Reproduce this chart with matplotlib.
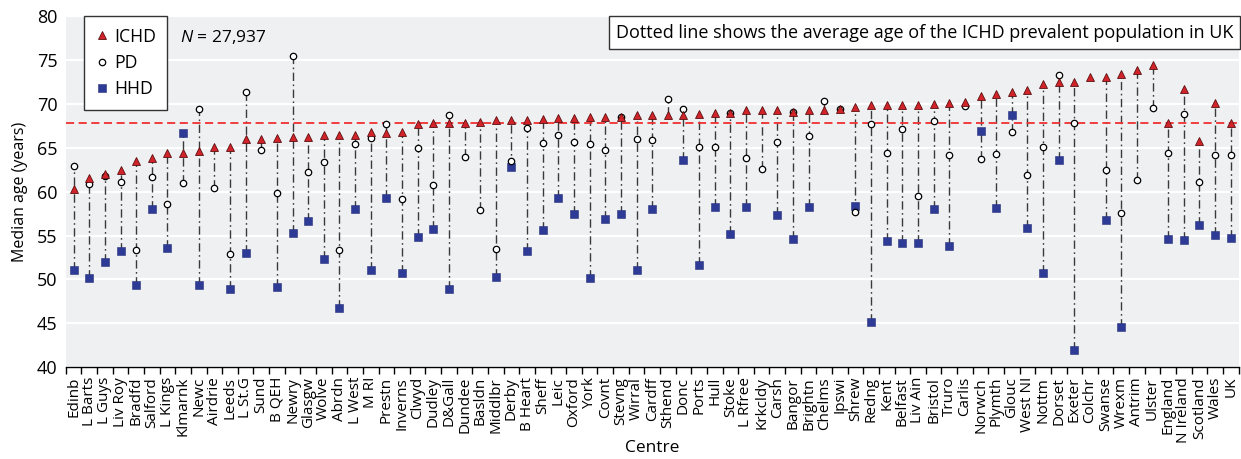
import numpy as np
import matplotlib.pyplot as plt
from matplotlib.lines import Line2D

nan = np.nan

centres = ['Edinb', 'L Barts', 'L Guys', 'Liv Roy', 'Bradfd', 'Salford', 'L Kings', 'Klmarnk',
           'Newc', 'Airdrie', 'Leeds', 'L St.G', 'Sund', 'B QEH', 'Newry', 'Glasgw', 'Wolve',
           'Abrdn', 'L West', 'M RI', 'Prestn', 'Inverns', 'Clwyd', 'Dudley', 'D&Gall', 'Dundee',
           'Basldn', 'Middlbr', 'Derby', 'B Heart', 'Sheff', 'Leic', 'Oxford', 'York', 'Covnt',
           'Stevng', 'Wirral', 'Cardff', 'Sthend', 'Donc', 'Ports', 'Hull', 'Stoke', 'L Rfree',
           'Krkcldy', 'Carsh', 'Bangor', 'Brightn', 'Chelms', 'Ipswi', 'Shrew', 'Redng', 'Kent',
           'Belfast', 'Liv Ain', 'Bristol', 'Truro', 'Carlis', 'Norwch', 'Plymth', 'Glouc',
           'West NI', 'Nottm', 'Dorset', 'Exeter', 'Colchr', 'Swanse', 'Wrexm', 'Antrim', 'Ulster',
           'England', 'N Ireland', 'Scotland', 'Wales', 'UK']

# median age, in-centre HD
ichd = [60.3, 61.5, 62.0, 62.5, 63.5, 63.8, 64.4, 64.4, 64.6, 65.1, 65.1, 66.0, 66.0, 66.1, 66.2,
        66.2, 66.4, 66.4, 66.5, 66.8, 66.7, 66.8, 67.7, 67.8, 67.8, 67.8, 67.9, 68.2, 68.2, 68.2,
        68.3, 68.4, 68.4, 68.5, 68.5, 68.5, 68.7, 68.7, 68.7, 68.7, 68.8, 69.0, 69.0, 69.3, 69.3,
        69.3, 69.1, 69.35, 69.35, 69.4, 69.6, 69.85, 69.9, 69.9, 69.9, 70.0, 70.15, 70.2, 70.9,
        71.1, 71.4, 71.6, 72.25, 72.5, 72.5, 73.1, 73.1, 73.4, 73.9, 74.4,
        67.8, 71.7, 65.8, 70.1, 67.85]

# peritoneal dialysis
pd_ = [62.9, 60.9, 61.8, 61.1, 53.3, 61.7, 58.6, 61.0, 69.4, 60.4, 52.9, 71.3, 64.7, 59.8, 75.4,
       62.2, 63.4, 53.3, 65.4, 66.1, 67.7, 59.2, 65.0, 60.7, 68.7, 63.95, 57.9, 53.5, 63.5, 67.3,
       65.5, 66.4, 65.7, 65.4, 64.7, 68.5, 66.0, 65.9, 70.5, 69.4, 65.1, 65.1, 69.0, 63.8, 62.6,
       65.7, 69.1, 66.3, 70.3, 69.4, 57.7, 67.7, 64.4, 67.1, 59.5, 68.1, 64.2, 69.7, 63.75,
       64.3, 66.8, 61.9, 65.05, 73.3, 67.8, nan, 62.5, 57.6, 61.3, 69.5,
       64.45, 68.8, 61.15, 64.2, 64.2]

# home HD
hhd = [51.1, 50.2, 52.0, 53.2, 49.4, 58.0, 53.6, 66.7, 49.4, nan, 48.9, 53.0, nan, 49.1, 55.3,
       56.7, 52.3, 46.8, 58.0, 51.1, 59.3, 50.7, 54.8, 55.8, 48.9, nan, nan, 50.3, 62.8, 53.2,
       55.6, 59.3, 57.5, 50.2, 56.9, 57.4, 51.1, 58.0, nan, 63.6, 51.6, 58.2, 55.2, 58.3, nan,
       57.3, 54.6, 58.3, nan, nan, 58.4, 45.1, 54.4, 54.1, 54.2, 58.0, 53.85, nan, 66.9,
       58.1, 68.7, 55.9, 50.7, 63.6, 42.0, nan, 56.8, 44.6, nan, nan,
       54.6, 54.5, 56.2, 55.1, 54.7]

uk_mean = 67.8

plt.rcParams['font.family'] = ['Open Sans', 'DejaVu Sans']
plt.rcParams['mathtext.fontset'] = 'custom'
plt.rcParams['mathtext.rm'] = 'Open Sans'
plt.rcParams['mathtext.it'] = 'Open Sans:italic'

tri_style = dict(marker='^', color='#d2232a', markeredgecolor='#5a1010',
                 markersize=5.2, markeredgewidth=0.6)
circ_style = dict(marker='o', markerfacecolor='white', markeredgecolor='black',
                  markersize=4.6, markeredgewidth=0.9)
sq_style = dict(marker='s', color='#2e3b96', markeredgecolor='#26307a',
                markersize=5.2, markeredgewidth=0.4)

fig = plt.figure(figsize=(12.41, 4.59), dpi=100)
ax = fig.add_axes([0.053, 0.2, 0.945, 0.765])
ax.set_facecolor('#eff0f2')

x = np.arange(len(centres))
vals = np.array([ichd, pd_, hhd], dtype=float)
lo = np.nanmin(vals, axis=0)
hi = np.nanmax(vals, axis=0)

ax.vlines(x, lo, hi, colors='#3a3a3a', linewidth=1.0,
          linestyles=(0, (6, 2.5, 1.2, 2.5)), zorder=2)
ax.axhline(uk_mean, color='#f03030', linewidth=1.3, dashes=(4.5, 2.5), zorder=3)

ax.plot(x, hhd, ls='none', zorder=4, **sq_style)
ax.plot(x, pd_, ls='none', zorder=5, **circ_style)
ax.plot(x, ichd, ls='none', zorder=6, **tri_style)

ax.set_xlim(-0.5, len(centres) - 0.5)
ax.set_ylim(40, 80)
ax.set_yticks(range(40, 81, 5))
ax.yaxis.grid(True, color='white', linewidth=1.6)
ax.set_axisbelow(True)

ax.set_xticks(x)
ax.set_xticklabels(centres, rotation=90, fontsize=11)
ax.set_xticks(np.arange(-0.5, len(centres), 1), minor=True)
ax.tick_params(axis='x', which='major', length=0, pad=7)
ax.tick_params(axis='x', which='minor', length=5, width=1, color='black', direction='out')
ax.tick_params(axis='y', length=0, labelsize=13, pad=6)

for s in ['top', 'right', 'left']:
    ax.spines[s].set_visible(False)
ax.spines['bottom'].set_color('black')
ax.spines['bottom'].set_linewidth(1)

ax.set_ylabel('Median age (years)', fontsize=11.5, labelpad=6)
ax.set_xlabel('Centre', fontsize=12.5, labelpad=-2)

handles = [
    Line2D([], [], ls='none', label='ICHD', **tri_style),
    Line2D([], [], ls='none', label='PD', **circ_style),
    Line2D([], [], ls='none', label='HHD', **sq_style),
]
leg = ax.legend(handles=handles, loc='upper left', bbox_to_anchor=(0.0155, 1.0),
                fontsize=12.7, frameon=True, fancybox=False, framealpha=1,
                edgecolor='#333333', handletextpad=0.25, handlelength=0.8,
                borderpad=0.65, labelspacing=0.47, borderaxespad=0)
leg.get_frame().set_linewidth(1.0)

ax.text(0.097, 0.94, r'$\it{N}$ = 27,937', transform=ax.transAxes, fontsize=12.5,
        va='center', ha='left')

ax.text(0.9955, 0.953, 'Dotted line shows the average age of the ICHD prevalent population in UK',
        transform=ax.transAxes, fontsize=13, ha='right', va='center',
        bbox=dict(boxstyle='square,pad=0.4', facecolor='white', edgecolor='#333333',
                  linewidth=1.0))

fig.savefig('out.png', dpi=100)
